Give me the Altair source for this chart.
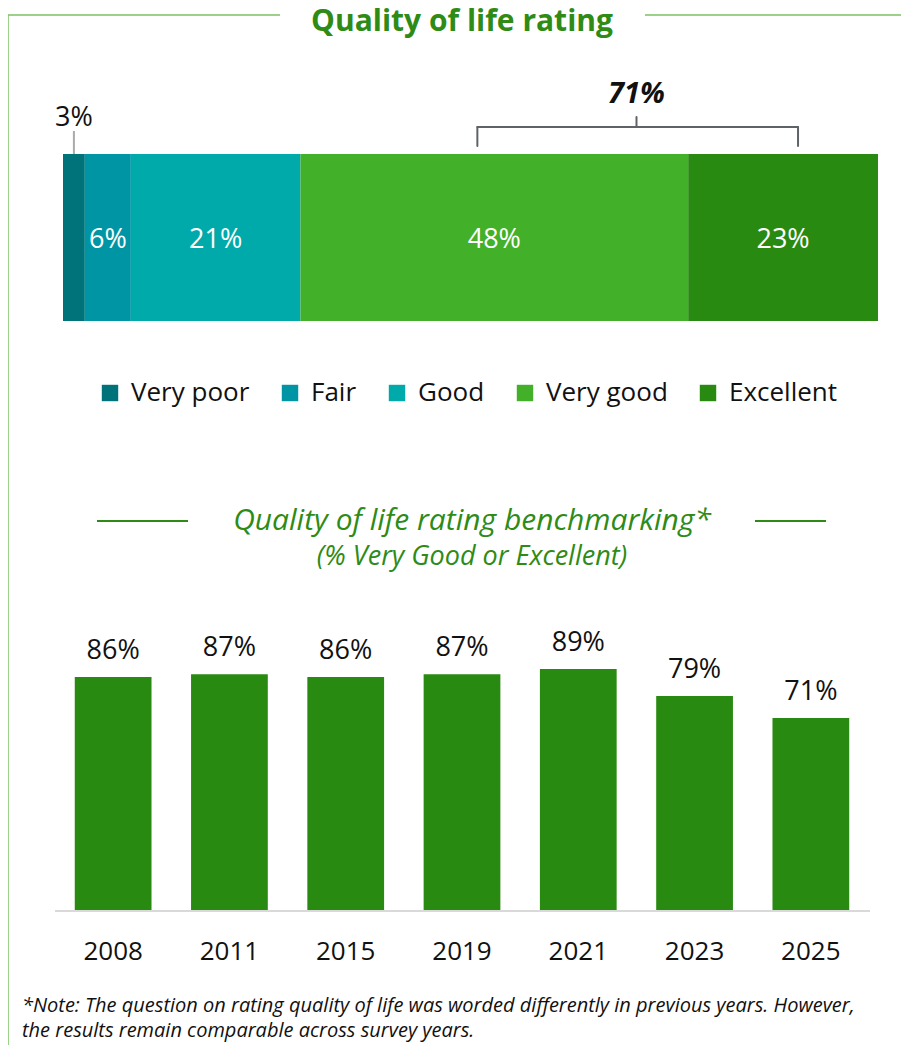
import altair as alt
import pandas as pd

FONT = "Open Sans"

# ---- data ----
categories = ["Very poor", "Fair", "Good", "Very good", "Excellent"]
shares = [2.7, 5.7, 21, 48, 23.5]
share_labels = ["3%", "6%", "21%", "48%", "23%"]
cat_colors = ["#00737A", "#0095A5", "#00AAAA", "#43B02A", "#288A10"]
bracket_span = [51.3, 91.0]
bracket_mid = [71.0]
bracket_label = ["71%"]

years = ["2008", "2011", "2015", "2019", "2021", "2023", "2025"]
vg_exc = [86, 87, 86, 87, 89, 79, 71]
vg_exc_labels = ["86%", "87%", "86%", "87%", "89%", "79%", "71%"]

W, H = 893, 1037
GREEN = "#2E8B16"

top_df = pd.DataFrame({"cat": categories, "value": shares, "label": share_labels,
                       "order": list(range(len(categories)))})
bench_df = pd.DataFrame({"year": years, "value": vg_exc, "label": vg_exc_labels})

x_top = alt.Scale(domain=[0, sum(shares)], range=[55, 870])
color_scale = alt.Scale(domain=categories, range=cat_colors)

# ---- decorative frame ----
frame = pd.DataFrame({"x": [0, 0, 637], "x2": [0, 272, 893], "y": [7, 7, 7], "y2": [H, 7, 7]})
frame_layer = alt.Chart(frame).mark_rule(color="#7CC060", strokeWidth=1.5).encode(
    x=alt.X("x:Q", scale=None, axis=None), x2="x2:Q",
    y=alt.Y("y:Q", scale=None, axis=None), y2="y2:Q")

title_layer = alt.Chart(pd.DataFrame({"t": ["Quality of life rating"]})).mark_text(
    font=FONT, fontSize=30, fontWeight="bold", color=GREEN, baseline="middle"
).encode(text="t:N", x=alt.value(454), y=alt.value(14))

# ---- stacked bar ----
stack_layer = alt.Chart(top_df).mark_bar(size=167).encode(
    x=alt.X("value:Q", stack="zero", scale=x_top, axis=None),
    y=alt.value(229.5),
    color=alt.Color("cat:N", scale=color_scale, sort=categories,
                    legend=alt.Legend(title=None, orient="none", direction="horizontal",
                                      legendX=89, legendY=372, symbolType="square",
                                      symbolSize=270, symbolStrokeWidth=0,
                                      labelFont=FONT, labelFontSize=26, labelColor="#111",
                                      columnPadding=27, symbolOffset=0, labelOffset=8,
                                      labelLimit=300)),
    order=alt.Order("order:Q"),
)

mids = (alt.Chart(top_df)
        .transform_window(cum="sum(value)", sort=[alt.SortField("order")], frame=[None, 0])
        .transform_calculate(mid="datum.cum - datum.value / 2"))

inner_labels = mids.transform_filter("datum.value >= 5").mark_text(
    font=FONT, fontSize=27, color="white", baseline="middle"
).encode(x=alt.X("mid:Q", scale=x_top, axis=None), y=alt.value(232), text="label:N")

outer_label = mids.transform_filter("datum.value < 5").mark_text(
    font=FONT, fontSize=27, color="#111", baseline="middle"
).encode(x=alt.X("mid:Q", scale=x_top, axis=None), y=alt.value(110), text="label:N")

leader = mids.transform_filter("datum.value < 5").mark_rule(color="#AAAAAA", strokeWidth=2).encode(
    x=alt.X("mid:Q", scale=x_top, axis=None), y=alt.value(123), y2=alt.value(146))

# bracket
BR = "#5F6368"
br = pd.DataFrame({"a": [bracket_span[0]], "b": [bracket_span[1]], "m": bracket_mid, "label": bracket_label})
br_h = alt.Chart(br).mark_rule(color=BR, strokeWidth=2, strokeCap="round").encode(
    x=alt.X("a:Q", scale=x_top, axis=None), x2="b:Q", y=alt.value(119))
br_l = alt.Chart(br).mark_rule(color=BR, strokeWidth=2, strokeCap="round").encode(
    x=alt.X("a:Q", scale=x_top, axis=None), y=alt.value(119), y2=alt.value(138))
br_r = alt.Chart(br).mark_rule(color=BR, strokeWidth=2, strokeCap="round").encode(
    x=alt.X("b:Q", scale=x_top, axis=None), y=alt.value(119), y2=alt.value(138))
br_m = alt.Chart(br).mark_rule(color=BR, strokeWidth=2, strokeCap="round").encode(
    x=alt.X("m:Q", scale=x_top, axis=None), y=alt.value(109), y2=alt.value(119))
br_t = alt.Chart(br).mark_text(font=FONT, fontSize=29, fontWeight="bold", fontStyle="italic",
                               color="#111", baseline="middle").encode(
    x=alt.X("m:Q", scale=x_top, axis=None), y=alt.value(86), text="label:N")

# ---- benchmarking title ----
sub_title = alt.Chart(pd.DataFrame({"t": ["Quality of life rating benchmarking*"]})).mark_text(
    font=FONT, fontSize=30, fontStyle="italic", color=GREEN, baseline="middle").encode(
    text="t:N", x=alt.value(464), y=alt.value(513))
sub_title2 = alt.Chart(pd.DataFrame({"t": ["(% Very Good or Excellent)"]})).mark_text(
    font=FONT, fontSize=27, fontStyle="italic", color=GREEN, baseline="middle").encode(
    text="t:N", x=alt.value(464), y=alt.value(549))
sub_lines = alt.Chart(pd.DataFrame({"x": [89, 747], "x2": [180, 818], "y": [513, 513]})).mark_rule(
    color=GREEN, strokeWidth=2).encode(
    x=alt.X("x:Q", scale=None, axis=None), x2="x2:Q", y=alt.Y("y:Q", scale=None, axis=None))

# ---- benchmarking bars ----
x_b = alt.Scale(domain=years, range=[47, 861], paddingInner=0.34, paddingOuter=0.17)
y_b = alt.Scale(domain=[0, 100], range=[903, 631])

bench_bars = alt.Chart(bench_df).mark_bar(color="#288A10").encode(
    x=alt.X("year:N", scale=x_b, axis=None, sort=years),
    y=alt.Y("value:Q", scale=y_b, axis=None))
bench_text = alt.Chart(bench_df).mark_text(font=FONT, fontSize=27, color="#111",
                                           baseline="alphabetic", dy=-18).encode(
    x=alt.X("year:N", scale=x_b, axis=None, sort=years),
    y=alt.Y("value:Q", scale=y_b, axis=None), text="label:N")
bench_years = alt.Chart(bench_df).mark_text(font=FONT, fontSize=26, color="#111",
                                            baseline="middle").encode(
    x=alt.X("year:N", scale=x_b, axis=None, sort=years),
    y=alt.value(944), text="year:N")
baseline = alt.Chart(bench_df).mark_rule(color="#D9D9D9", strokeWidth=2).encode(
    x=alt.value(47), x2=alt.value(862), y=alt.datum(0, scale=y_b, axis=None))

# ---- note ----
note = pd.DataFrame({"t": ["*Note: The question on rating quality of life was worded differently in previous years. However,",
                           "the results remain comparable across survey years."],
                     "y": [998, 1023]})
note_layer = alt.Chart(note).mark_text(font=FONT, fontSize=20, fontStyle="italic", color="#111",
                                       align="left", baseline="middle", lineHeight=22).encode(
    text="t:N", x=alt.value(14), y=alt.Y("y:Q", scale=None, axis=None))

chart = alt.layer(
    frame_layer, title_layer, stack_layer, inner_labels, outer_label, leader,
    br_h, br_l, br_r, br_m, br_t,
    sub_lines, sub_title, sub_title2,
    bench_bars, bench_text, bench_years, baseline, note_layer,
).resolve_scale(x="independent", y="independent", color="independent").properties(
    width=W, height=H, autosize=alt.AutoSizeParams(type="none"), padding=0,
).configure_view(stroke=None)

chart.save("out.html", embed_options={"renderer": "svg", "actions": False})
